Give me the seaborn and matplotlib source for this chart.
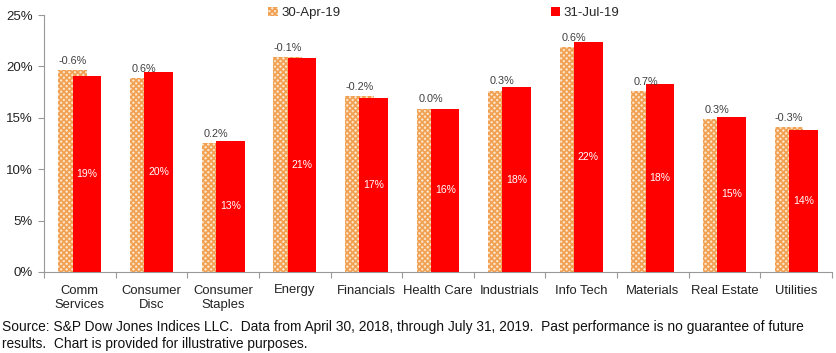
import matplotlib

matplotlib.use("Agg")
import matplotlib.pyplot as plt
import matplotlib.ticker as mticker
import numpy as np
import pandas as pd
import seaborn as sns
from matplotlib.patches import Patch


SECTORS = [
    "Comm\nServices", "Consumer\nDisc", "Consumer\nStaples", "Energy",
    "Financials", "Health Care", "Industrials", "Info Tech",
    "Materials", "Real Estate", "Utilities",
]
APR_19 = [19.65, 18.9, 12.55, 20.9, 17.15, 15.9, 17.65, 21.85, 17.6, 14.85, 14.1]
JUL_19 = [19.05, 19.5, 12.75, 20.8, 16.95, 15.9, 17.95, 22.4, 18.3, 15.1, 13.8]
CHANGE_LABELS = ["-0.6%", "0.6%", "0.2%", "-0.1%", "-0.2%", "0.0%",
                 "0.3%", "0.6%", "0.7%", "0.3%", "-0.3%"]
JUL_LABELS = ["19%", "20%", "13%", "21%", "17%", "16%",
              "18%", "22%", "18%", "15%", "14%"]
SOURCE_TEXT = (
    "Source: S&P Dow Jones Indices LLC.  Data from April 30, 2018, through July 31, 2019.  "
    "Past performance is no guarantee of future\n"
    "results.  Chart is provided for illustrative purposes."
)

HATCH_EDGE = "#F0A050"
HATCH_FACE = "#FCE2C6"
RED = "#FF0000"

sns.set_theme(style="white")
plt.rcParams["font.family"] = ["Liberation Sans", "DejaVu Sans"]
plt.rcParams["hatch.linewidth"] = 1.2

df = pd.DataFrame({"Sector": SECTORS, "apr": APR_19, "jul": JUL_19})

fig = plt.figure(figsize=(8.37, 3.53), dpi=100)
ax = fig.add_axes([44 / 837, 1 - 272 / 353, (832 - 44) / 837, (272 - 15) / 353])

sns.barplot(data=df, x="Sector", y="apr", color=HATCH_FACE, width=0.4,
            saturation=1, linewidth=0, ax=ax)
n = len(SECTORS)
for p in ax.patches[:n]:
    p.set_x(p.get_x() - 0.1)
    p.set_hatch("xxxxxx")
    p.set_edgecolor(HATCH_EDGE)
    p.set_linewidth(0)

sns.barplot(data=df, x="Sector", y="jul", color=RED, width=0.4,
            saturation=1, linewidth=0, ax=ax)
for p in ax.patches[n:]:
    p.set_x(p.get_x() + 0.1)
    p.set_edgecolor(RED)
    p.set_linewidth(0)
    p.set_zorder(3)

# change labels above the April bars, value labels inside July bars
for p, txt in zip(ax.patches[:n], CHANGE_LABELS):
    ax.annotate(txt, (p.get_x() + p.get_width() / 2, p.get_height()),
                xytext=(0, 3), textcoords="offset points", ha="center",
                va="bottom", fontsize=7.8, color="#404040")
for p, txt in zip(ax.patches[n:], JUL_LABELS):
    ax.text(p.get_x() + p.get_width() / 2, p.get_height() / 2, txt,
            ha="center", va="center", fontsize=7.5, color="white", zorder=4)

ax.set_xlim(-0.5, n - 0.5)
ax.set_ylim(0, 25)
ax.yaxis.set_major_locator(mticker.MultipleLocator(5))
ax.yaxis.set_major_formatter(mticker.FuncFormatter(lambda v, _: f"{v:.0f}%"))
ax.set_xlabel("")
ax.set_ylabel("")

ax.set_xticks(np.arange(-0.5, n, 1), minor=True)
ax.tick_params(axis="x", which="major", length=0, pad=9, labelsize=9.4,
               colors="#222222")
ax.tick_params(axis="x", which="minor", length=4, width=0.8, color="#999999",
               direction="out", bottom=True)
ax.tick_params(axis="y", which="major", length=4, width=0.8, color="#999999",
               direction="out", labelsize=9.5, labelcolor="#222222", pad=4,
               left=True)
for lab in ax.get_xticklabels():
    lab.set_linespacing(1.3)

for side in ["top", "right"]:
    ax.spines[side].set_visible(False)
for side in ["left", "bottom"]:
    ax.spines[side].set_color("#999999")
    ax.spines[side].set_linewidth(0.8)

handles = [
    Patch(facecolor=HATCH_FACE, edgecolor=HATCH_EDGE, hatch="xxxxxx",
          linewidth=0, label="30-Apr-19"),
    Patch(facecolor=RED, edgecolor=RED, linewidth=0, label="31-Jul-19"),
]
fig.legend(handles=handles, loc="center", bbox_to_anchor=(444 / 837, 1 - 13 / 353),
           ncol=2, frameon=False, fontsize=9.5, handlelength=0.7,
           handleheight=0.7, handletextpad=0.3, columnspacing=15.9)

fig.text(2 / 837, 1 - 320 / 353, SOURCE_TEXT, ha="left", va="top",
         fontsize=9.9, color="#111111", linespacing=1.25)

fig.savefig("out.png", dpi=100)
plt.close(fig)
